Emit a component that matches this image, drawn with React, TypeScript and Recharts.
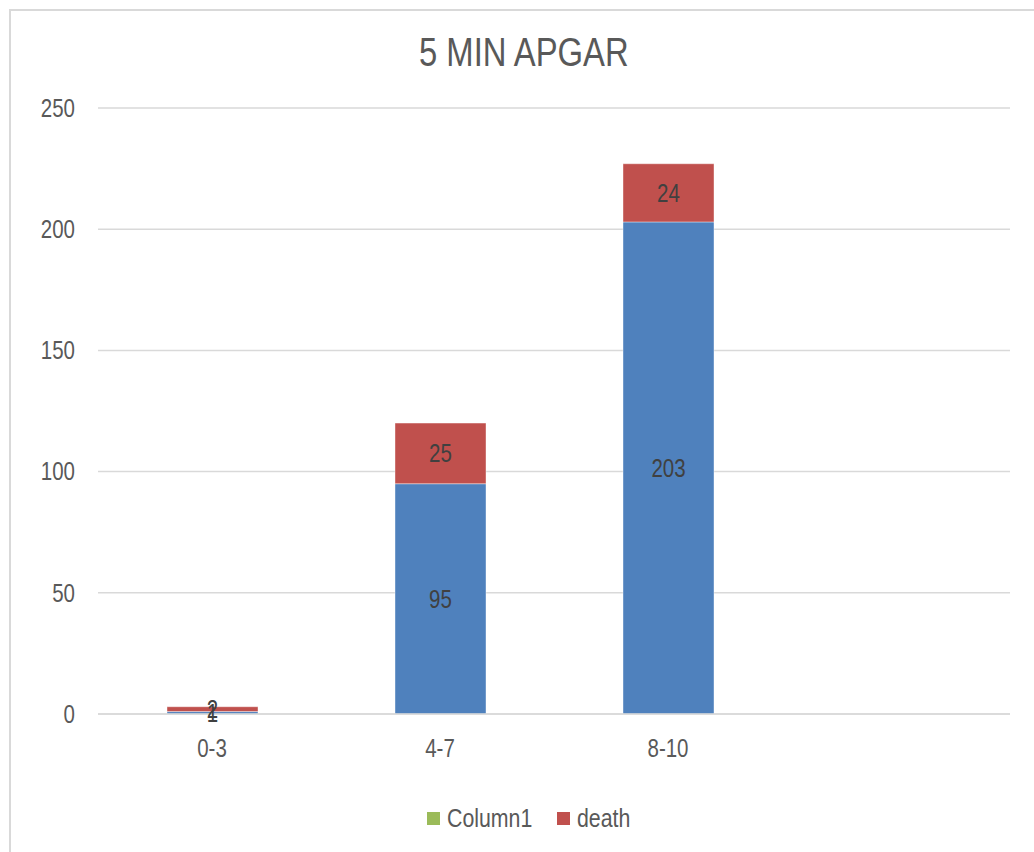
import {
  Bar,
  BarChart,
  CartesianGrid,
  LabelList,
  Legend,
  XAxis,
  YAxis,
} from 'recharts'

const FONT = "'Liberation Sans', Arial, sans-serif"
// horizontal squeeze so Liberation Sans reads like a narrow face
const NARROW = 0.82

const COLORS = {
  alive: '#4f81bd',
  column1: '#9bbb59',
  death: '#c0504d',
  text: '#595959',
  label: '#404040',
  grid: '#d9d9d9',
} as const

// APGAR score bands at 5 minutes; last slot is an empty row in the sheet
const categories = ['0-3', '4-7', '8-10', '']
const aliveValues = [1, 95, 203, null]
const column1Values = [null, null, null, null]
const deathValues = [2, 25, 24, null]
const yTicks = [0, 50, 100, 150, 200, 250]

const legendItems = [
  { name: 'Column1', color: COLORS.column1 },
  { name: 'death', color: COLORS.death },
]

const data = categories.map((name, i) => ({
  name,
  alive: aliveValues[i],
  Column1: column1Values[i],
  death: deathValues[i],
}))

const measureCtx = document.createElement('canvas').getContext('2d')
function textWidth(s: string, size: number) {
  if (!measureCtx) return s.length * size * 0.55
  measureCtx.font = `${size}px ${FONT}`
  return measureCtx.measureText(s).width
}

function NarrowText({ x, y, anchor, baseline, size, fill, children }: any) {
  return (
    <g transform={`translate(${x},${y})`}>
      <text
        transform={`scale(${NARROW},1)`}
        textAnchor={anchor}
        dominantBaseline={baseline}
        fontSize={size}
        fontFamily={FONT}
        fill={fill}
      >
        {children}
      </text>
    </g>
  )
}

function XTick({ x, y, payload }: any) {
  return (
    <NarrowText x={x} y={y} anchor="middle" baseline="hanging" size={25} fill={COLORS.text}>
      {payload.value}
    </NarrowText>
  )
}

function YTick({ x, y, payload }: any) {
  return (
    <NarrowText x={x} y={y} anchor="end" baseline="central" size={25} fill={COLORS.text}>
      {payload.value}
    </NarrowText>
  )
}

function BarValue({ x, y, width, height, value }: any) {
  if (value == null) return null
  return (
    <NarrowText
      x={Number(x) + Number(width) / 2}
      y={Number(y) + Number(height) / 2}
      anchor="middle"
      baseline="central"
      size={25}
      fill={COLORS.label}
    >
      {value}
    </NarrowText>
  )
}

function LegendBox() {
  const size = 26
  return (
    <div style={{ display: 'flex', justifyContent: 'center', gap: 25, paddingLeft: 10 }}>
      {legendItems.map((item) => {
        const w = textWidth(item.name, size)
        return (
          <div key={item.name} style={{ display: 'flex', alignItems: 'center', gap: 7 }}>
            <span style={{ width: 13, height: 13, background: item.color, display: 'inline-block' }} />
            <span
              style={{
                display: 'inline-block',
                whiteSpace: 'nowrap',
                fontSize: size,
                color: COLORS.text,
                transform: `scaleX(${NARROW})`,
                transformOrigin: 'left center',
                marginRight: -(1 - NARROW) * w,
              }}
            >
              {item.name}
            </span>
          </div>
        )
      })}
    </div>
  )
}

export default function App() {
  return (
    <div
      style={{
        position: 'absolute',
        left: 9,
        top: 9,
        width: 1030,
        height: 860,
        border: `2px solid ${COLORS.grid}`,
        background: '#fff',
        fontFamily: FONT,
        boxSizing: 'border-box',
      }}
    >
      <div
        style={{
          position: 'absolute',
          top: 19,
          left: 0,
          width: '100%',
          textAlign: 'center',
        }}
      >
        <span
          style={{
            display: 'inline-block',
            fontSize: 40,
            color: COLORS.text,
            transform: `scaleX(${NARROW})`,
          }}
        >
          5 MIN APGAR
        </span>
      </div>
      <BarChart
        width={1026}
        height={856}
        data={data}
        margin={{ top: 97, right: 27, left: 0, bottom: 62 }}
        barSize={91}
      >
        <CartesianGrid vertical={false} stroke={COLORS.grid} strokeWidth={1.5} />
        <XAxis
          dataKey="name"
          axisLine={{ stroke: COLORS.grid, strokeWidth: 1.5 }}
          tickLine={false}
          tickSize={0}
          tickMargin={25}
          height={60}
          tick={<XTick />}
        />
        <YAxis
          domain={[0, 250]}
          ticks={yTicks}
          width={87}
          axisLine={false}
          tickLine={false}
          tickSize={0}
          tickMargin={23}
          tick={<YTick />}
        />
        <Legend
          verticalAlign="bottom"
          wrapperStyle={{ top: 792, left: 0, width: 1026 }}
          content={() => <LegendBox />}
        />
        <Bar
          dataKey="alive"
          stackId="a"
          fill={COLORS.alive}
          legendType="none"
          stroke="#ffffff"
          strokeOpacity={0.4}
          isAnimationActive={false}
        >
          <LabelList dataKey="alive" content={<BarValue />} />
        </Bar>
        <Bar
          dataKey="Column1"
          stackId="a"
          fill={COLORS.column1}
          isAnimationActive={false}
        />
        <Bar
          dataKey="death"
          stackId="a"
          fill={COLORS.death}
          stroke="#ffffff"
          strokeOpacity={0.4}
          isAnimationActive={false}
        >
          <LabelList dataKey="death" content={<BarValue />} />
        </Bar>
      </BarChart>
    </div>
  )
}
